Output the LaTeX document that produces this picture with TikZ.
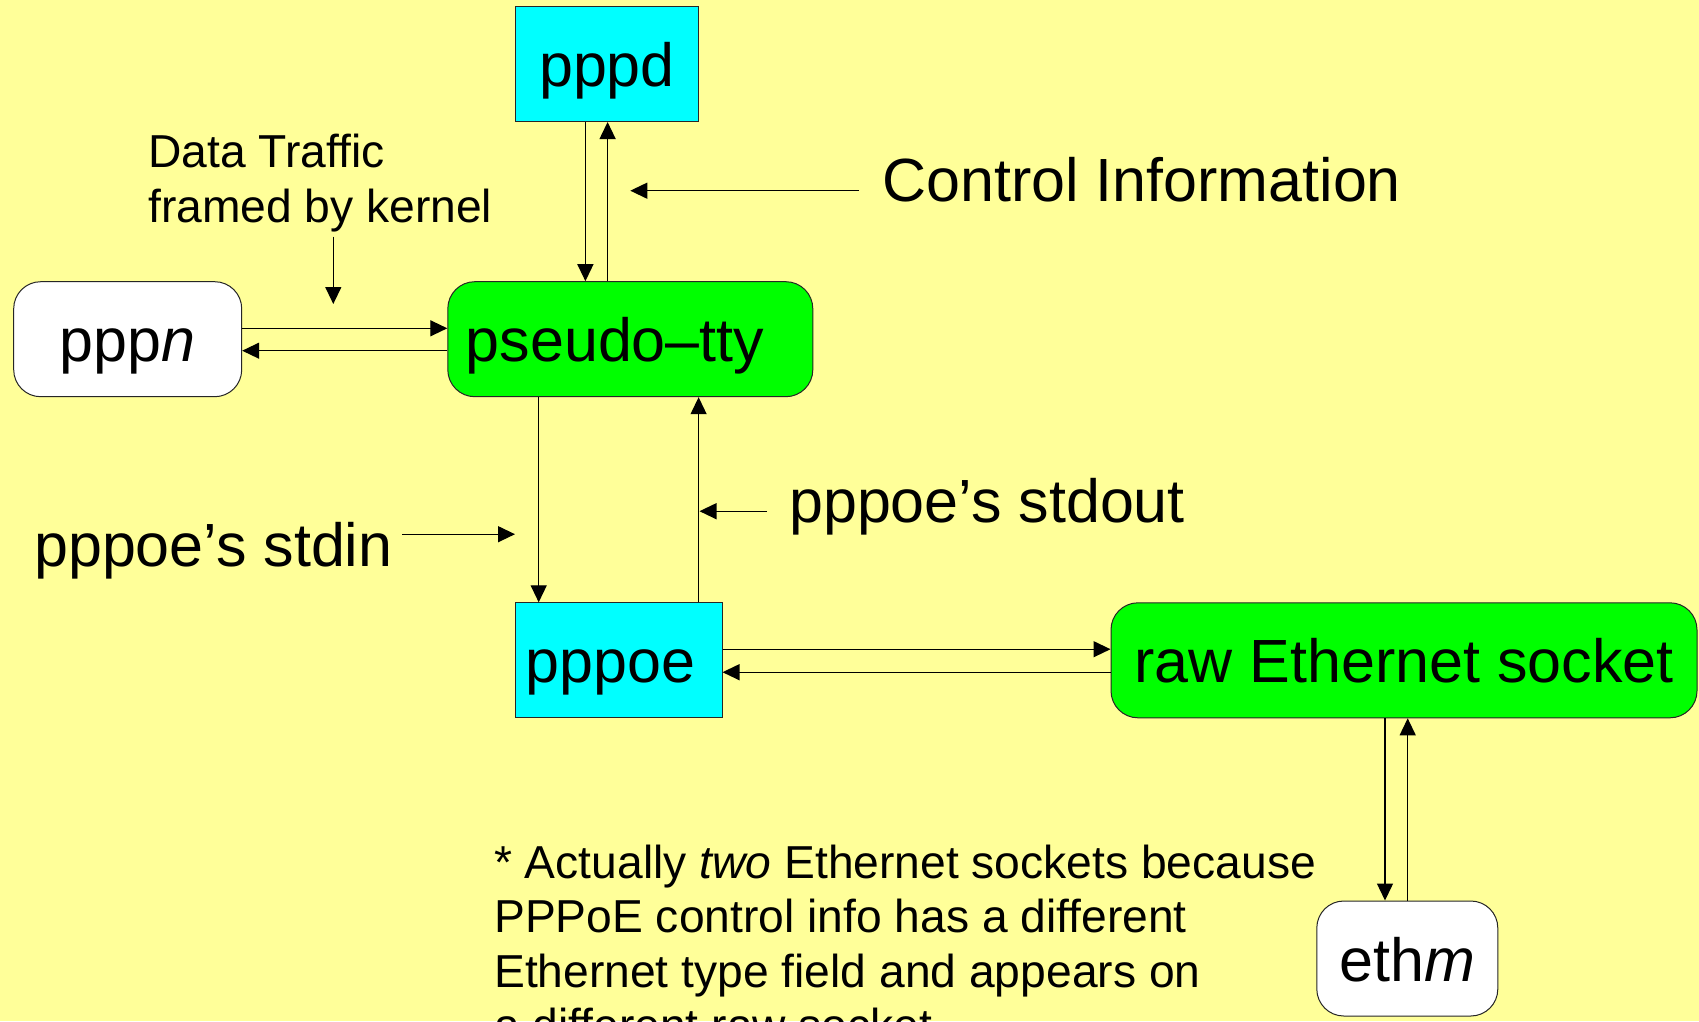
\documentclass[tikz,border=0pt]{standalone}
\usepackage{fontspec}
\setmainfont{Liberation Sans}
\usetikzlibrary{arrows.meta}
\definecolor{slidebg}{RGB}{255,255,153}
\definecolor{boxcyan}{RGB}{0,255,255}
\definecolor{boxgreen}{RGB}{0,255,0}
\tikzset{
  x=1pt, y=-1pt,
  box/.style={draw=black!85, line width=1pt, inner sep=0pt,
    minimum height=115pt, text height=45pt, text depth=0pt,
    font=\fontsize{61}{73}\selectfont},
  procbox/.style={box, fill=boxcyan},
  roundbox/.style={box, rounded corners=27pt},
  greenbox/.style={roundbox, fill=boxgreen},
  whitebox/.style={roundbox, fill=white},
  biglabel/.style={inner sep=0pt, anchor=base west,
    font=\fontsize{61}{73}\selectfont},
  smalllabel/.style={inner sep=0pt, anchor=base west, align=left,
    font=\fontsize{46.2}{55}\selectfont},
  arr/.style={draw=black, line width=1.3pt,
    -{Triangle[length=17pt,width=16pt]}}
}
\begin{document}
\begin{tikzpicture}
% slide background
\fill[slidebg] (0,0) rectangle (1699,1021);
\useasboundingbox (0,0) rectangle (1699,1021);

% processes and endpoints
\node[procbox, minimum width=183pt] (pppd) at (607,64) {pppd};
\node[whitebox, minimum width=228pt] (pppn) at (127.7,339.2) {ppp\textit{n}};
\node[greenbox, minimum width=365pt, text width=329pt, inner xsep=18pt, align=left]
  (pty) at (630.3,339.2) {pseudo–tty};
\node[procbox, minimum width=206.6pt, text width=186pt, inner xsep=10.3pt, align=left]
  (pppoe) at (618.7,660.3) {pppoe};
\node[greenbox, minimum width=586pt] (raw) at (1404,660.3) {raw Ethernet socket};
\node[whitebox, minimum width=181pt] (ethm) at (1407.3,958.5) {eth\textit{m}};

% labels (multi-line ones are placed by the baseline of their last line)
\node[smalllabel] (datalbl) at (148,222) {Data Traffic\\framed by kernel};
\node[biglabel] (ctrllbl) at (882,201.7) {Control Information};
\node[biglabel] (stdinlbl) at (34,566.8) {pppoe’s stdin};
\node[biglabel] (stdoutlbl) at (789,522.7) {pppoe’s stdout};
\node[smalllabel, font=\fontsize{46.2}{54.6}\selectfont] (note) at (494,1041.8)
  {* Actually \textit{two} Ethernet sockets because\\
   PPPoE control info has a different\\
   Ethernet type field and appears on\\
   a different raw socket};

% connector positions
\coordinate (xpdDown) at (585.4,0);
\coordinate (xpdUp) at (607.6,0);
\coordinate (xptyDown) at (538.7,0);
\coordinate (xptyUp) at (698.6,0);
\coordinate (xethDown) at (1385,0);
\coordinate (xethUp) at (1407.7,0);
\coordinate (ynOut) at (0,328.3);
\coordinate (ynIn) at (0,350.7);
\coordinate (yeOut) at (0,649.2);
\coordinate (yeIn) at (0,672.2);

% pppd <-> pseudo-tty
\draw[arr] (pppd.south -| xpdDown) -- (pty.north -| xpdDown);
\draw[arr] (pty.north -| xpdUp) -- (pppd.south -| xpdUp);

% pppn <-> pseudo-tty
\draw[arr] (pppn.east |- ynOut) -- (pty.west |- ynOut);
\draw[arr] (pty.west |- ynIn) -- (pppn.east |- ynIn);

% pseudo-tty <-> pppoe
\draw[arr] (pty.south -| xptyDown) -- (pppoe.north -| xptyDown);
\draw[arr] (pppoe.north -| xptyUp) -- (pty.south -| xptyUp);

% pppoe <-> raw socket
\draw[arr] (pppoe.east |- yeOut) -- (raw.west |- yeOut);
\draw[arr] (raw.west |- yeIn) -- (pppoe.east |- yeIn);

% raw socket <-> ethm
\draw[arr] (raw.south -| xethDown) -- (ethm.north -| xethDown);
\draw[arr] (ethm.north -| xethUp) -- (raw.south -| xethUp);

% label pointers
\coordinate (ctrlFrom) at (859,190.7);
\coordinate (ctrlTo) at (630.3,190.7);
\draw[arr] (ctrlFrom) -- (ctrlTo);
\coordinate (dataFrom) at (333.3,236.7);
\coordinate (dataTo) at (333.3,304);
\draw[arr] (dataFrom) -- (dataTo);
\coordinate (stdinFrom) at (402,534.2);
\coordinate (stdinTo) at (515,534.2);
\draw[arr] (stdinFrom) -- (stdinTo);
\coordinate (stdoutFrom) at (767,511.2);
\coordinate (stdoutTo) at (699.5,511.2);
\draw[arr] (stdoutFrom) -- (stdoutTo);
\end{tikzpicture}
\end{document}
